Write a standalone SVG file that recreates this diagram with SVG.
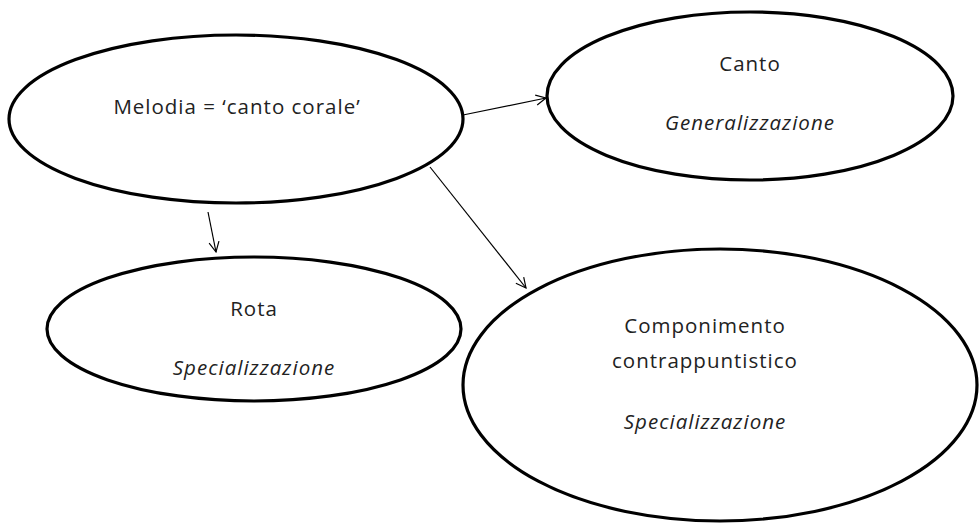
<svg xmlns="http://www.w3.org/2000/svg" width="979" height="524" viewBox="0 0 979 524">
  <style>
    .node ellipse { fill: #ffffff; stroke: #000000; stroke-width: 3.2; }
    .label { font-family: "Open Sans", "Noto Sans", "Liberation Sans", sans-serif; font-size: 20.5px; letter-spacing: 1px; fill: #222222; text-anchor: middle; }
    .kind { font-style: italic; }
    .edges line { stroke: #000000; stroke-width: 1.2; fill: none; marker-end: url(#open-arrow); }
  </style>
  <defs>
    <marker id="open-arrow" viewBox="0 0 12 12" refX="11" refY="6" markerWidth="12" markerHeight="12" markerUnits="userSpaceOnUse" orient="auto">
      <path d="M1,1 L11,6 L1,11" fill="none" stroke="#000000" stroke-width="1.2"/>
    </marker>
  </defs>
  <rect width="979" height="524" fill="#ffffff"/>

  <g class="edges">
    <line x1="463" y1="115" x2="546" y2="98"/>
    <line x1="208" y1="212" x2="216" y2="252"/>
    <line x1="430" y1="167" x2="526" y2="288"/>
  </g>

  <g id="melodia" class="node">
    <ellipse cx="236" cy="119" rx="227" ry="84"/>
    <text class="label" x="237" y="114">Melodia = ‘canto corale’</text>
  </g>

  <g id="canto" class="node">
    <ellipse cx="750" cy="96" rx="203" ry="84"/>
    <text class="label" x="750" y="71">Canto</text>
    <text class="label kind" x="750" y="130">Generalizzazione</text>
  </g>

  <g id="rota" class="node">
    <ellipse cx="254" cy="329" rx="207" ry="72"/>
    <text class="label" x="254" y="316">Rota</text>
    <text class="label kind" x="254" y="375">Specializzazione</text>
  </g>

  <g id="componimento" class="node">
    <ellipse cx="720" cy="385" rx="257" ry="136"/>
    <text class="label" x="705" y="333">Componimento</text>
    <text class="label" x="705" y="368">contrappuntistico</text>
    <text class="label kind" x="705" y="429">Specializzazione</text>
  </g>
</svg>
